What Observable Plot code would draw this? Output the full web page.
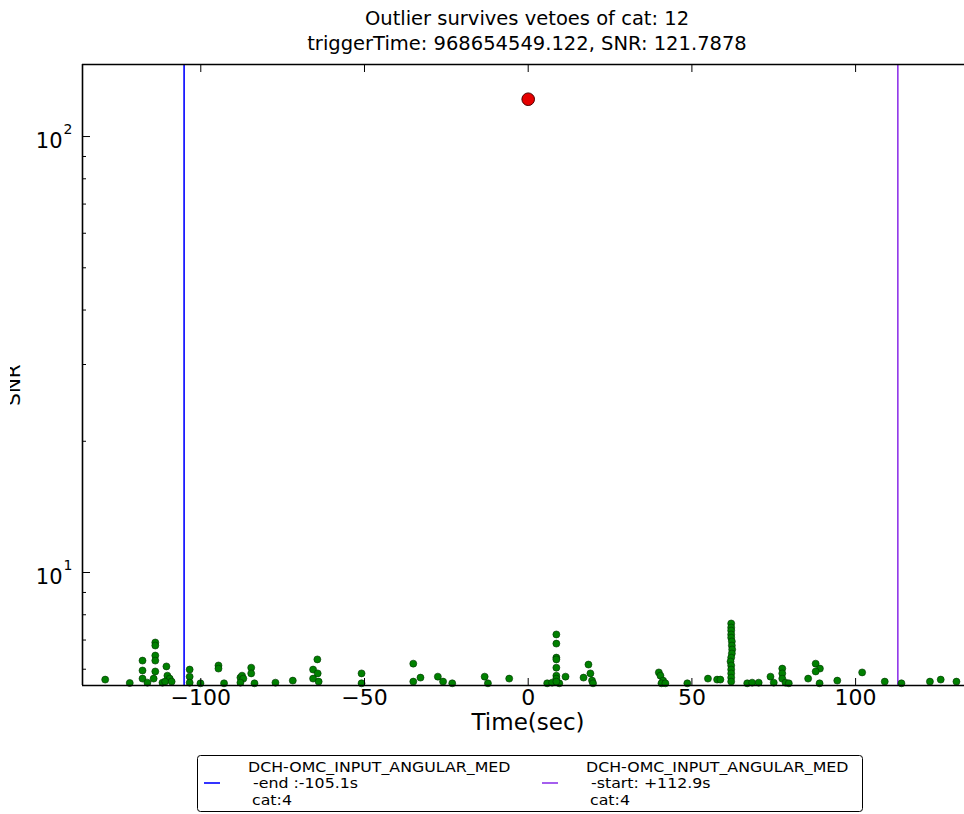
<!DOCTYPE html>
<html>
<head>
<meta charset="utf-8">
<script src="https://cdn.jsdelivr.net/npm/d3@7"></script>
<script src="https://cdn.jsdelivr.net/npm/@observablehq/plot@0.6"></script>
<style>
  body { margin: 0; background: #fff; }
  #chart { width: 964px; height: 814px; overflow: hidden; }
</style>
</head>
<body>
<div id="chart"></div>
<script>
// Outlier trigger and the window around it
const titleLines = ["Outlier survives vetoes of cat: 12", "triggerTime: 968654549.122, SNR: 121.7878"];
const outlier = {time: 0, snr: 121.7878};

// Background triggers near the outlier: [time (s), SNR]
const triggers = [
  [-129.2, 5.68], [-121.7, 5.58],
  [-117.8, 6.28], [-117.8, 5.96], [-117.8, 5.71], [-116.3, 5.59],
  [-113.9, 6.91], [-113.9, 6.80], [-113.9, 6.45], [-113.9, 6.28], [-113.9, 5.93], [-114.4, 5.71],
  [-111.7, 5.59], [-110.5, 6.09], [-110.2, 5.80], [-109.5, 5.71], [-110.9, 5.62], [-108.9, 5.62],
  [-103.4, 5.99], [-103.4, 5.77], [-103.4, 5.59], [-100.1, 5.57],
  [-94.6, 6.12], [-94.6, 6.02], [-92.9, 5.57],
  [-87.9, 5.74], [-87.4, 5.80], [-87.0, 5.71], [-87.9, 5.59],
  [-84.6, 6.05], [-84.6, 5.87], [-83.6, 5.57],
  [-77.2, 5.59], [-71.9, 5.65],
  [-64.4, 6.32], [-65.7, 5.99], [-64.3, 5.87], [-65.7, 5.71], [-64.0, 5.62],
  [-50.9, 5.87], [-50.9, 5.57],
  [-35.1, 6.18], [-35.1, 5.62], [-32.9, 5.74],
  [-27.6, 5.77], [-26.0, 5.62], [-23.2, 5.57],
  [-13.3, 5.77], [-12.3, 5.57], [-5.8, 5.71],
  [5.8, 5.57], [7.3, 5.59], [9.5, 5.57],
  [8.6, 7.21], [8.6, 6.87], [8.6, 6.38], [8.6, 6.32], [8.6, 6.05], [8.6, 5.80], [8.6, 5.71], [8.6, 5.62],
  [11.4, 5.77],
  [16.9, 5.74], [18.4, 6.15], [19.0, 5.87], [19.5, 5.65], [19.8, 5.57],
  [39.9, 5.90], [40.4, 5.80], [41.2, 5.65], [40.7, 5.57], [41.9, 5.57],
  [48.6, 5.57],
  [54.9, 5.71], [57.7, 5.68], [58.7, 5.68],
  [62.0, 7.64], [62.0, 7.48], [62.0, 7.36], [62.0, 7.21], [62.0, 7.09], [62.2, 6.95], [62.2, 6.80],
  [62.3, 6.66], [62.2, 6.52], [62.0, 6.38], [61.8, 6.25], [62.0, 6.12], [62.0, 5.99], [62.0, 5.87],
  [62.0, 5.74], [62.0, 5.62],
  [66.9, 5.57], [68.4, 5.59], [70.4, 5.59],
  [74.0, 5.77], [75.0, 5.59],
  [77.6, 6.02], [77.6, 5.87], [77.6, 5.71], [78.6, 5.59], [79.6, 5.57],
  [85.5, 5.71],
  [87.8, 6.18], [89.1, 6.02], [87.8, 5.93], [89.0, 5.57],
  [94.4, 5.65], [102.0, 5.90], [108.9, 5.62], [114.0, 5.57],
  [122.7, 5.62], [126.0, 5.68], [130.8, 5.62]
];

// Veto segment edges
const vetoTimes = [-105.1, 112.9];
const vetoColors = ["#0000ff", "#8f35ea"];
const vetoLabels = [
  ["DCH-OMC_INPUT_ANGULAR_MED", " -end :-105.1s", "cat:4"],
  ["DCH-OMC_INPUT_ANGULAR_MED", " -start: +112.9s", "cat:4"]
];

// Axis ticks
const xTicks = [-100, -50, 0, 50, 100];
const yMajor = [10, 100];
const yMinor = [6, 7, 8, 9, 20, 30, 40, 50, 60, 70, 80, 90];
const xDomain = [-136.13, 133.26];
const yDomain = [5.506, 146.3];

const W = 964, H = 814, mL = 82, mT = 64, mB = 129;
const frameW = W - mL, frameH = H - mT - mB;
const font = "DejaVu Sans";
const vetoes = vetoTimes.map((t, i) => ({t, color: vetoColors[i]}));
const minus = d => d < 0 ? "\u2212" + (-d) : String(d);

const plot = Plot.plot({
  width: W, height: H,
  marginLeft: mL, marginRight: 0, marginTop: mT, marginBottom: mB,
  style: {fontFamily: font, background: "#fff", color: "#000"},
  x: {domain: xDomain, axis: null},
  y: {type: "log", domain: yDomain, axis: null},
  color: {type: "identity"},
  marks: [
    // veto edges
    Plot.ruleX(vetoes, {x: "t", stroke: "color", strokeWidth: 1.6}),
    // triggers
    Plot.dot(triggers, {x: d => d[0], y: d => d[1], r: 3.5, fill: "#008000", stroke: "#003300", strokeWidth: 0.6}),
    Plot.dot([outlier], {x: "time", y: "snr", r: 6.3, fill: "#e60000", stroke: "#4d0000", strokeWidth: 1}),
    // spines (left, bottom, top)
    Plot.ruleX([xDomain[0]], {stroke: "#000", strokeWidth: 1.6}),
    Plot.ruleY(yDomain, {stroke: "#000", strokeWidth: 1.6}),
    // inward ticks
    Plot.tickX(xTicks, {x: d => d, insetBottom: frameH - 8, stroke: "#000", strokeWidth: 1}),
    Plot.tickX(xTicks, {x: d => d, insetTop: frameH - 7, stroke: "#000", strokeWidth: 1}),
    Plot.tickY(yMajor, {y: d => d, insetRight: frameW - 8, stroke: "#000", strokeWidth: 1}),
    Plot.tickY(yMinor, {y: d => d, insetRight: frameW - 4, stroke: "#000", strokeWidth: 1}),
    // tick labels
    Plot.text(xTicks, {x: d => d, frameAnchor: "bottom", dy: 19, text: minus, fontSize: 22, fill: "#000"}),
    Plot.text(yMajor, {y: d => d, frameAnchor: "left", dx: -20, dy: 5, textAnchor: "end", text: () => "10", fontSize: 21, fill: "#000"}),
    Plot.text(yMajor, {y: d => d, frameAnchor: "left", dx: -19, dy: -7, textAnchor: "start", text: d => String(Math.round(Math.log10(d))), fontSize: 14, fill: "#000"}),
    // axis label
    Plot.text(["Time(sec)"], {frameAnchor: "bottom", dx: 4.5, dy: 44, text: d => d, fontSize: 23, fill: "#000"})
  ]
});

const svg = d3.select(plot);

// title
svg.append("g")
  .attr("font-family", font).attr("font-size", 19.5).attr("text-anchor", "middle").attr("fill", "#000")
  .selectAll("text").data(titleLines).join("text")
  .attr("x", 527).attr("y", (d, i) => 18 + i * 25).attr("dy", "0.35em").text(d => d);

// y label, clipped at the page edge
const clip = svg.append("clipPath").attr("id", "ylab-clip");
clip.append("rect").attr("x", 10).attr("y", 300).attr("width", 40).attr("height", 200);
svg.append("g").attr("clip-path", "url(#ylab-clip)")
  .append("text")
  .attr("transform", "translate(20,385) rotate(-90)")
  .attr("text-anchor", "middle").attr("font-family", font).attr("font-size", 20).attr("fill", "#000")
  .text("SNR");

// legend: slightly wide lettering, three lines per entry
const lg = svg.append("g").attr("font-family", font).attr("font-size", 14).attr("fill", "#000")
  .attr("text-anchor", "start");
lg.append("rect").attr("x", 197.5).attr("y", 755.5).attr("width", 665).attr("height", 56).attr("rx", 3)
  .attr("fill", "#fff").attr("stroke", "#000").attr("stroke-width", 1);
const entryX = [204, 542];
vetoLabels.forEach((lines, i) => {
  lg.append("line").attr("x1", entryX[i]).attr("x2", entryX[i] + 16).attr("y1", 783).attr("y2", 783)
    .attr("stroke", vetoColors[i]).attr("stroke-width", 1.6);
  lines.forEach((s, j) => {
    const tx = entryX[i] + 44 + (j === 2 ? 4 : 0), ty = 767 + j * 16.5;
    lg.append("text").attr("transform", `translate(${tx},${ty}) scale(1.13,1)`).attr("dy", "0.35em")
      .style("white-space", "pre").text(s);
  });
});

document.getElementById("chart").append(plot);
</script>
</body>
</html>
